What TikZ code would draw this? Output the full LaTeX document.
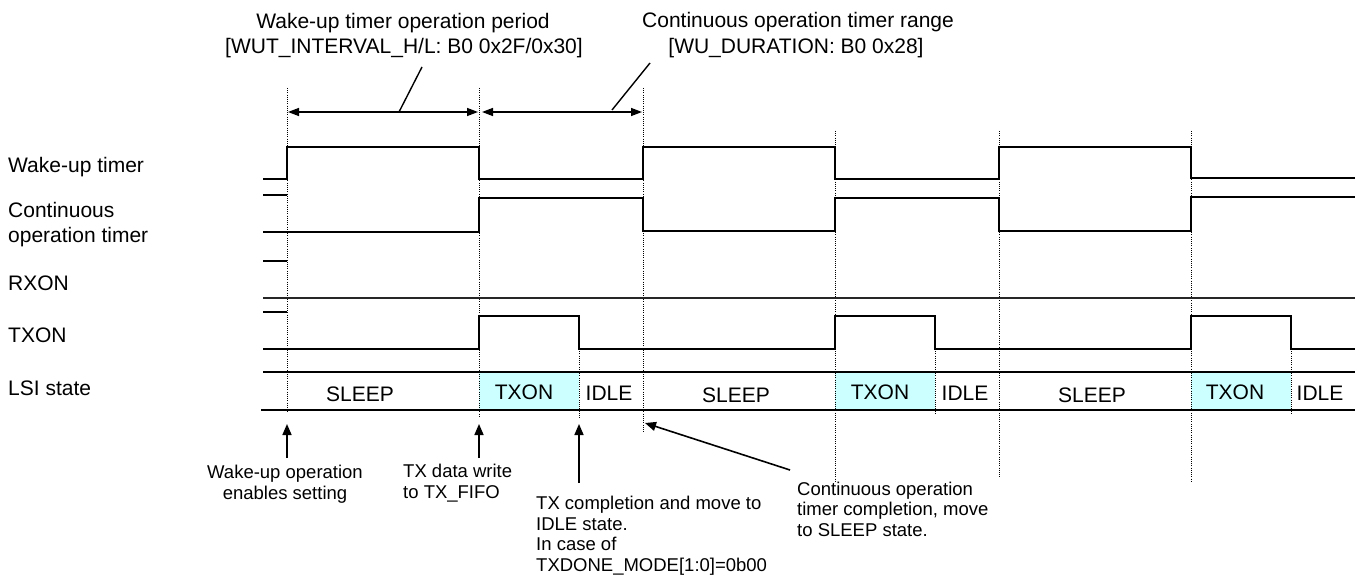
\documentclass[tikz,border=0pt]{standalone}
\usepackage{fontspec}
\setmainfont{Liberation Sans}
\usetikzlibrary{arrows.meta}
\definecolor{txfill}{RGB}{204,255,255}
\begin{document}
\begin{tikzpicture}[x=1pt,y=-1pt,
  sig/.style={line width=1.8pt, line join=miter},
  flat/.style={line width=1.4pt, black!85},
  guide/.style={line width=0.9pt, dash pattern=on 1pt off 1.2pt},
  dimarrow/.style={line width=1.4pt, {Triangle[length=11pt,width=8pt]}-{Triangle[length=11pt,width=8pt]}},
  leader/.style={line width=1.4pt},
  ptr/.style={line width=1.6pt, -{Triangle[length=11pt,width=9pt]}},
  lbl/.style={font=\fontsize{21}{24}\selectfont, inner sep=0pt},
  note/.style={font=\fontsize{18.5}{21}\selectfont, inner sep=0pt},
  statebox/.style={fill=txfill, draw=none},
]
\useasboundingbox (0,0) rectangle (1358,575);

% ---- LSI state fills
\fill[statebox] (479,372) rectangle (579,410);
\fill[statebox] (835,372) rectangle (935,410);
\fill[statebox] (1191,372) rectangle (1291,410);

% ---- dotted guides
\draw[guide] (287,88) -- (287,412);
\draw[guide] (479,88) -- (479,418);
\draw[guide] (579,316) -- (579,418);
\draw[guide] (643,88) -- (643,433);
\draw[guide] (835,131) -- (835,481);
\draw[guide] (935,316) -- (935,415);
\draw[guide] (999,131) -- (999,478);
\draw[guide] (1191,131) -- (1191,483);
\draw[guide] (1291,316) -- (1291,415);

% ---- signal names
\node[lbl, anchor=base west] (nWut) at (8,173) {Wake-up timer};
\node[lbl, anchor=base west] (nCont1) at (8,218) {Continuous};
\node[lbl, anchor=base west] (nCont2) at (8,242) {operation timer};
\node[lbl, anchor=base west] (nRx) at (8,290) {RXON};
\node[lbl, anchor=base west] (nTx) at (8,342) {TXON};
\node[lbl, anchor=base west] (nLsi) at (8,395) {LSI state};

% ---- Wake-up timer
\draw[sig] (263,179) -- (287,179) -- (287,147) -- (479,147) -- (479,179) -- (643,179)
  -- (643,147) -- (835,147) -- (835,179) -- (999,179) -- (999,147) -- (1191,147)
  -- (1191,178) -- (1355,178);

% ---- Continuous operation timer
\draw[sig] (263,195) -- (287,195);
\draw[sig] (263,232) -- (479,232) -- (479,198) -- (643,198) -- (643,231) -- (835,231)
  -- (835,198) -- (999,198) -- (999,231) -- (1191,231) -- (1191,197) -- (1355,197);

% ---- RXON
\draw[sig] (263,261) -- (287,261);
\draw[flat] (263,298) -- (1355,298);

% ---- TXON
\draw[sig] (263,312) -- (287,312);
\draw[sig] (263,349) -- (479,349) -- (479,316) -- (579,316) -- (579,349) -- (835,349)
  -- (835,316) -- (935,316) -- (935,349) -- (1191,349) -- (1191,316) -- (1291,316)
  -- (1291,349) -- (1355,349);

% ---- LSI state rails
\draw[sig] (263,372) -- (1355,372);
\draw[sig] (261,410) -- (1355,410);

% ---- state labels
\node[lbl, anchor=base] (sSleep1) at (360,401) {SLEEP};
\node[lbl, anchor=base] (sTx1) at (524,399) {TXON};
\node[lbl, anchor=base] (sIdle1) at (609,400) {IDLE};
\node[lbl, anchor=base] (sSleep2) at (736,402) {SLEEP};
\node[lbl, anchor=base] (sTx2) at (880,399) {TXON};
\node[lbl, anchor=base] (sIdle2) at (965,400) {IDLE};
\node[lbl, anchor=base] (sSleep3) at (1092,402) {SLEEP};
\node[lbl, anchor=base] (sTx3) at (1235,399) {TXON};
\node[lbl, anchor=base] (sIdle3) at (1320,400) {IDLE};

% ---- period dimension arrows
\coordinate (wutL) at (288,112);
\coordinate (wutR) at (478,112);
\coordinate (durL) at (482,112);
\coordinate (durR) at (642,112);
\draw[dimarrow] (wutL) -- (wutR);
\draw[dimarrow] (durL) -- (durR);

\node[lbl, anchor=base] (tWut1) at (403,29) {Wake-up timer operation period};
\node[lbl, anchor=base] (tWut2) at (404,54) {[WUT\_INTERVAL\_H/L: B0 0x2F/0x30]};
\node[lbl, anchor=base] (tDur1) at (798,28) {Continuous operation timer range};
\node[lbl, anchor=base] (tDur2) at (796,54) {[WU\_DURATION: B0 0x28]};

\coordinate (wutLeadA) at (399,112);
\coordinate (wutLeadB) at (422,67);
\coordinate (durLeadA) at (612,110);
\coordinate (durLeadB) at (650,63);
\draw[leader] (wutLeadA) -- (wutLeadB);
\draw[leader] (durLeadA) -- (durLeadB);

% ---- bottom annotations
\node[note, anchor=base] (aWake1) at (285,478) {Wake-up operation};
\node[note, anchor=base] (aWake2) at (285,499) {enables setting};
\node[note, anchor=base west] (aFifo1) at (403,477) {TX data write};
\node[note, anchor=base west] (aFifo2) at (403,498) {to TX\_FIFO};
\node[note, anchor=base west] (aDone1) at (536,509.5) {TX completion and move to};
\node[note, anchor=base west] (aDone2) at (536,530) {IDLE state.};
\node[note, anchor=base west] (aDone3) at (536,550.5) {In case of};
\node[note, anchor=base west] (aDone4) at (536,571) {TXDONE\_MODE[1:0]=0b00};
\node[note, anchor=base west] (aCont1) at (797,495) {Continuous operation};
\node[note, anchor=base west] (aCont2) at (797,515.5) {timer completion, move};
\node[note, anchor=base west] (aCont3) at (797,536) {to SLEEP state.};

\coordinate (pWakeT) at (287,458);
\coordinate (pWakeH) at (287,424);
\coordinate (pFifoT) at (479,458);
\coordinate (pFifoH) at (479,424);
\coordinate (pDoneT) at (579,483);
\coordinate (pDoneH) at (579,424);
\coordinate (pContT) at (790,470);
\coordinate (pContH) at (645,423);
\draw[ptr] (pWakeT) -- (pWakeH);
\draw[ptr] (pFifoT) -- (pFifoH);
\draw[ptr] (pDoneT) -- (pDoneH);
\draw[ptr] (pContT) -- (pContH);
\end{tikzpicture}
\end{document}
